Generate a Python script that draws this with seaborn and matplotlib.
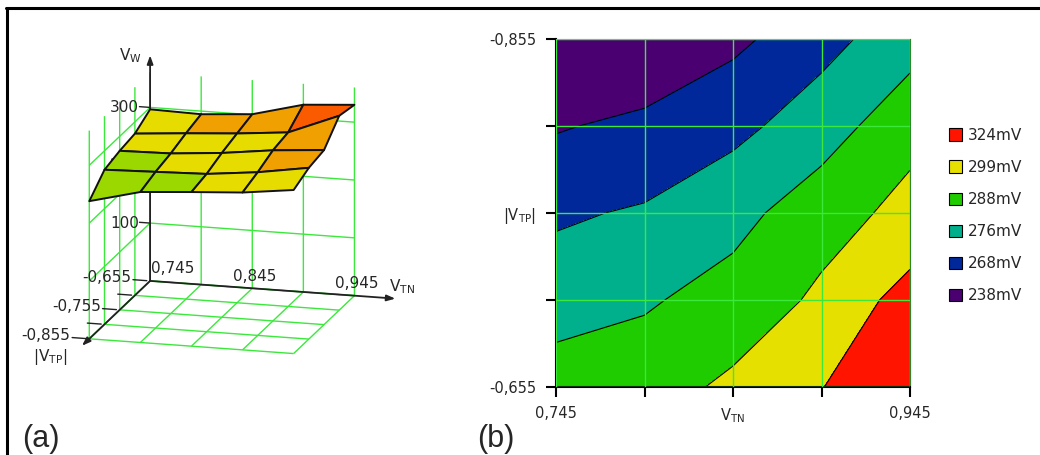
import numpy as np
import matplotlib
matplotlib.use("Agg")
import matplotlib.pyplot as plt
from matplotlib.patches import Patch
from matplotlib.lines import Line2D
from mpl_toolkits.mplot3d import proj3d
import seaborn as sns

# grid of the simulation
v_tn = [0.745, 0.795, 0.845, 0.895, 0.945]
v_tp = [-0.855, -0.805, -0.755, -0.705, -0.655]

# V_W (mV), one list per |V_TP| row, columns follow v_tn
vw_855 = [238.0, 260.2, 266.5, 272.1, 282.8]
vw_805 = [267.3, 270.0, 272.8, 282.1, 296.1]
vw_755 = [275.0, 276.8, 284.0, 295.0, 301.8]
vw_705 = [279.7, 286.6, 292.7, 300.9, 336.1]
vw_655 = [296.7, 294.6, 301.0, 323.8, 330.0]

# contour bands (legend order, top to bottom)
band_labels = ["324mV", "299mV", "288mV", "276mV", "268mV", "238mV"]
band_levels = [238, 268, 276, 288, 299, 324]
band_colors = ["#ff1400", "#e6e000", "#1ecc00", "#00b08c", "#00289a", "#4a0070"]

# colouring of the 3d surface
surf_levels = [273, 293.5, 315]
surf_colors = ["#9ad800", "#e6dc00", "#f0a000", "#fa5a00"]

z_ticks = [0, 100, 200, 300]
grid_green = "#3ce83c"
axis_col = "#222222"

sns.set_theme(style="white")
plt.rcParams["font.family"] = ["DejaVu Sans"]
plt.rcParams["mathtext.default"] = "regular"

W, H = 1040, 455
PX = 0.72  # points per pixel at 100 dpi
fig = plt.figure(figsize=(W / 100, H / 100), dpi=100)

Z = np.array([vw_855, vw_805, vw_755, vw_705, vw_655])
X, Y = np.meshgrid(v_tn, v_tp)

def fmt(v):
    return f"{v:.3f}".replace(".", ",")

# ---------------- (b) contour map ----------------
ax = fig.add_axes([556 / W, 68 / H, 354 / W, 348 / H])
ax.contourf(X, Y, Z, levels=band_levels + [Z.max()], colors=band_colors[::-1])
ax.contour(X, Y, Z, levels=band_levels[1:], colors="black", linewidths=0.8)
ax.set_xlim(v_tn[0], v_tn[-1])
ax.set_ylim(v_tp[-1], v_tp[0])
ax.set_xticks(v_tn)
ax.set_yticks(v_tp)
ax.set_xticklabels([fmt(v_tn[0]), "", "V$_{TN}$", "", fmt(v_tn[-1])])
ax.set_yticklabels([fmt(v_tp[0]), "", "|V$_{TP}$|", "", fmt(v_tp[-1])])
ax.set_axisbelow(False)
ax.grid(True, color=grid_green, linewidth=1)
ax.tick_params(direction="out", length=7, width=1.5, color="black",
               labelsize=10.5, bottom=True, left=True)
ax.tick_params(axis="x", pad=7)
ax.tick_params(axis="y", pad=7)
for side in ["left", "bottom"]:
    ax.spines[side].set_color("black")
    ax.spines[side].set_linewidth(1.5)
for side in ["top", "right"]:
    ax.spines[side].set_color("#2a8a2a")
    ax.spines[side].set_linewidth(0.8)

handles = [Patch(facecolor=c, edgecolor="black", linewidth=0.8) for c in band_colors]
fig.legend(handles, band_labels, loc="upper left",
           bbox_to_anchor=(935 / W, 1 - 114 / H), frameon=False,
           fontsize=11, handlelength=0.85, handleheight=0.85,
           handletextpad=0.4, labelspacing=1.12)

# ---------------- (a) 3d surface ----------------
ax3 = fig.add_axes([37 / W, 1 - 398 / H, 360 / W, 360 / H], projection="3d",
                   computed_zorder=False)
ax3.set_proj_type("ortho")
ax3.view_init(elev=15.2, azim=-74.6)
ax3.set_xlim(v_tn[0], v_tn[-1])
ax3.set_ylim(v_tp[0], v_tp[-1])
ax3.set_zlim(0, 360)
ax3.set_box_aspect((671, 725, 683), zoom=1.023)
ax3.set_xticks(v_tn)
ax3.set_yticks(v_tp)
ax3.set_zticks(z_ticks)
ax3.set_xticklabels([])
ax3.set_yticklabels([])
ax3.set_zticklabels([])
for axis in [ax3.xaxis, ax3.yaxis, ax3.zaxis]:
    axis.set_pane_color((1, 1, 1, 0))
    axis.pane.set_edgecolor((1, 1, 1, 0))
    axis.line.set_color((1, 1, 1, 0))
    axis._axinfo["grid"].update(color=grid_green, linewidth=1.0)
    axis._axinfo["tick"].update(inward_factor=0, outward_factor=0)
ax3.patch.set_alpha(0)

cell = (Z[:-1, :-1] + Z[1:, :-1] + Z[:-1, 1:] + Z[1:, 1:]) / 4
idx = np.digitize(cell, surf_levels)
fc = np.empty(Z.shape, dtype=object)
fc[:] = "none"
for r in range(cell.shape[0]):
    for c in range(cell.shape[1]):
        fc[r, c] = surf_colors[idx[r, c]]
ax3.plot_surface(X, Y, Z, facecolors=fc, edgecolor="#111111", linewidth=1.4,
                 shade=False, rstride=1, cstride=1, zorder=3)

x0, yb, yf = v_tn[0], v_tp[-1], v_tp[0]
dx = v_tn[-1] - v_tn[0]
dy = v_tp[-1] - v_tp[0]
tick = dx * 0.04

M = ax3.get_proj()

def screen(x, y, z):
    xs, ys, _ = proj3d.proj_transform(x, y, z, M)
    return float(xs), float(ys)

def axis_arrow(end, z):
    ax3.annotate("", xy=screen(*end), xytext=screen(x0, yb, 0), xycoords="data",
                 arrowprops=dict(arrowstyle="-|>,head_length=0.5,head_width=0.18",
                                 color=axis_col, lw=1.3, shrinkA=0, shrinkB=0,
                                 mutation_scale=10),
                 zorder=z)

def label3d(s, xyz, off, ha, va, z=2):
    ax3.annotate(s, xy=screen(*xyz), xycoords="data",
                 xytext=(off[0] * PX, off[1] * PX), textcoords="offset points",
                 ha=ha, va=va, fontsize=11, zorder=z)

# axes drawn at the back-left corner
x_tip = (x0 + dx * 1.2, yb, 0)
y_tip = (x0, yb - dy * 1.12, 0)
z_tip = (x0, yb, 390)
axis_arrow(x_tip, 2)
axis_arrow(y_tip, 2)
axis_arrow(z_tip, 1)

for yv in v_tp:
    ax3.plot([x0 - tick * 2.1, x0 - tick * 0.4], [yv, yv], [0, 0],
             color=axis_col, lw=1, zorder=2)
for yv in v_tp[::2]:
    label3d(fmt(yv), (x0, yv, 0), (-19, 3), "right", "center")
for zv in z_ticks[1:]:
    ax3.plot([x0 - tick * 1.3, x0], [yb, yb], [zv, zv], color=axis_col, lw=1, zorder=1)
    label3d(str(zv), (x0, yb, zv), (-11, 0), "right", "center", z=1)
for i, xv in enumerate(v_tn[::2]):
    if i == 0:
        label3d(fmt(xv), (xv, yb, 0), (1, 5), "left", "bottom")
    else:
        label3d(fmt(xv), (xv, yb, 0), (2, 4.5), "center", "bottom")

label3d("V$_W$", z_tip, (-8, 0), "right", "center")
label3d("V$_{TN}$", x_tip, (-6, 12), "left", "center")
label3d("|V$_{TP}$|", y_tip, (-15, -1), "right", "top")

# panel letters and frame
fig.text(22 / W, 1 - 447 / H, "(a)", fontsize=22, ha="left", va="baseline",
         family="Liberation Sans")
fig.text(477 / W, 1 - 447 / H, "(b)", fontsize=22, ha="left", va="baseline",
         family="Liberation Sans")
fig.add_artist(Line2D([6 / W, 1], [1 - 7.5 / H, 1 - 7.5 / H], color="black", lw=2.2))
fig.add_artist(Line2D([7 / W, 7 / W], [0, 1 - 7.5 / H], color="black", lw=2.2))

fig.savefig("out.png", dpi=100)
